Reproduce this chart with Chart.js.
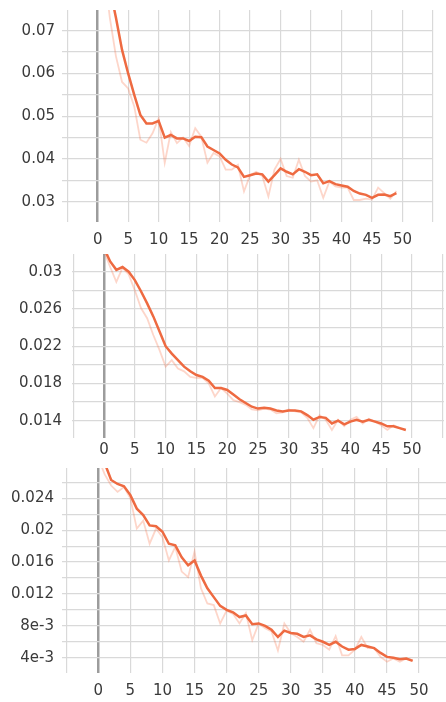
<!DOCTYPE html>
<html>
<head>
<meta charset="utf-8">
<script src="https://cdn.jsdelivr.net/npm/chart.js@4.4.0/dist/chart.umd.min.js"></script>
<style>
  html, body { margin: 0; padding: 0; background: #fff; }
  body { width: 446px; height: 702px; position: relative; overflow: hidden; }
  .panel { position: absolute; left: 0; width: 446px; }
</style>
</head>
<body>
<div class="panel" style="top:0;height:250px"><canvas id="c1"></canvas></div>
<div class="panel" style="top:250px;height:212px"><canvas id="c2"></canvas></div>
<div class="panel" style="top:462px;height:240px"><canvas id="c3"></canvas></div>
<script>
// epochs shared by all three runs
const epochs = [0,1,2,3,4,5,6,7,8,9,10,11,12,13,14,15,16,17,18,19,20,21,22,23,24,
  25,26,27,28,29,30,31,32,33,34,35,36,37,38,39,40,41,42,43,44,45,46,47,48,49];
const xTicks = [-5, 0, 5, 10, 15, 20, 25, 30, 35, 40, 45, 50, 55];
const xLabels = ['', '0', '5', '10', '15', '20', '25', '30', '35', '40', '45', '50', ''];

// top panel
const smooth1 = [0.095, 0.087, 0.080, 0.073, 0.0655, 0.0600, 0.0550, 0.0503, 0.0483, 0.0483,
  0.0489, 0.0450, 0.0456, 0.0448, 0.0448, 0.0442, 0.0452, 0.0451, 0.0429, 0.0421,
  0.0413, 0.0398, 0.0387, 0.0380, 0.0358, 0.0362, 0.0366, 0.0364, 0.0347, 0.0362,
  0.0378, 0.0370, 0.0364, 0.0376, 0.0370, 0.0362, 0.0364, 0.0343, 0.0348, 0.0341,
  0.0338, 0.0335, 0.0325, 0.0319, 0.0316, 0.0309, 0.0316, 0.0317, 0.0313, 0.0320];
const raw1 = [0.100, 0.085, 0.073, 0.064, 0.058, 0.0565, 0.0523, 0.0445, 0.0438, 0.0460,
  0.0495, 0.0391, 0.0463, 0.0437, 0.0450, 0.0430, 0.0472, 0.0452, 0.0391, 0.0414,
  0.0406, 0.0375, 0.0375, 0.0386, 0.0324, 0.0362, 0.0370, 0.0360, 0.0312, 0.0375,
  0.0400, 0.0360, 0.0356, 0.0398, 0.0360, 0.0347, 0.0350, 0.0309, 0.0347, 0.0336,
  0.0333, 0.0333, 0.0304, 0.0304, 0.0307, 0.0305, 0.0333, 0.0320, 0.0307, 0.0325];
const yTicks1 = [0.03, 0.035, 0.04, 0.045, 0.05, 0.055, 0.06, 0.065, 0.07];
const yLabels1 = ['0.03', '', '0.04', '', '0.05', '', '0.06', '', '0.07'];

// middle panel
const smooth2 = [0.0325, 0.0311, 0.0302, 0.0305, 0.0300, 0.0291, 0.0279, 0.0266, 0.0252, 0.0236,
  0.0220, 0.0212, 0.0205, 0.0198, 0.0193, 0.0189, 0.0187, 0.0183, 0.0175, 0.0175,
  0.0173, 0.0168, 0.0163, 0.0159, 0.0155, 0.0153, 0.0154, 0.0153, 0.0151, 0.0150,
  0.0151, 0.0151, 0.0150, 0.0146, 0.0141, 0.0144, 0.0143, 0.0137, 0.0140, 0.0136,
  0.0139, 0.0141, 0.0139, 0.0141, 0.0139, 0.0137, 0.0134, 0.0134, 0.0132, 0.0130];
const raw2 = [0.0322, 0.0305, 0.0289, 0.0304, 0.0297, 0.0280, 0.0261, 0.0250, 0.0232, 0.0216,
  0.0198, 0.0205, 0.0196, 0.0193, 0.0187, 0.0186, 0.0186, 0.0180, 0.0166, 0.0175,
  0.0169, 0.0162, 0.0160, 0.0157, 0.0152, 0.0151, 0.0153, 0.0152, 0.0148, 0.0149,
  0.0152, 0.0150, 0.0149, 0.0143, 0.0132, 0.0146, 0.0141, 0.0130, 0.0141, 0.0134,
  0.0141, 0.0144, 0.0137, 0.0142, 0.0139, 0.0135, 0.0130, 0.0135, 0.0132, 0.0130];
const yTicks2 = [0.014, 0.016, 0.018, 0.020, 0.022, 0.024, 0.026, 0.028, 0.030];
const yLabels2 = ['0.014', '', '0.018', '', '0.022', '', '0.026', '', '0.03'];

// bottom panel
const smooth3 = [0.0295, 0.0284, 0.0263, 0.0258, 0.0255, 0.0244, 0.0227, 0.0219, 0.0206, 0.0205,
  0.0198, 0.0183, 0.0181, 0.0166, 0.0156, 0.0162, 0.0143, 0.0127, 0.0116, 0.0105,
  0.0100, 0.0097, 0.0091, 0.0093, 0.0082, 0.0083, 0.0080, 0.0075, 0.0066, 0.0074,
  0.0071, 0.0070, 0.0066, 0.0068, 0.0063, 0.0060, 0.0056, 0.0060, 0.0054, 0.0050,
  0.0051, 0.0056, 0.0054, 0.0052, 0.0046, 0.0041, 0.0040, 0.0038, 0.0039, 0.0036];
const raw3 = [0.0290, 0.0270, 0.0256, 0.0248, 0.0254, 0.0240, 0.0202, 0.0212, 0.0183, 0.0202,
  0.0191, 0.0162, 0.0179, 0.0148, 0.0141, 0.0173, 0.0127, 0.0108, 0.0106, 0.0083,
  0.0099, 0.0095, 0.0083, 0.0096, 0.0062, 0.0083, 0.0077, 0.0073, 0.0049, 0.0083,
  0.0071, 0.0066, 0.0060, 0.0075, 0.0058, 0.0056, 0.0050, 0.0067, 0.0043, 0.0043,
  0.0050, 0.0066, 0.0052, 0.0052, 0.0041, 0.0035, 0.0039, 0.0035, 0.0039, 0.0037];
const yTicks3 = [0.004, 0.006, 0.008, 0.010, 0.012, 0.014, 0.016, 0.018, 0.020, 0.022, 0.024, 0.026];
const yLabels3 = ['4e-3', '', '8e-3', '', '0.012', '', '0.016', '', '0.02', '', '0.024', ''];

const SMOOTH_COLOR = '#ee6a41';
const RAW_COLOR = 'rgba(247, 120, 80, 0.3)';
const GRID = '#d9d9d9';
const ZERO_LINE = '#9c9c9c';
const FONT = { family: "'DejaVu Sans', Verdana, sans-serif", size: 15 };

function xy(vals) { return vals.map((v, i) => ({ x: epochs[i], y: v })); }

function makePanel(id, p) {
  return new Chart(document.getElementById(id), {
    type: 'line',
    data: {
      datasets: [
        { data: xy(p.smooth), borderColor: SMOOTH_COLOR, borderWidth: 2.5, pointRadius: 0, tension: 0 },
        { data: xy(p.raw), borderColor: RAW_COLOR, borderWidth: 1.8, pointRadius: 0, tension: 0 }
      ]
    },
    options: {
      responsive: true,
      maintainAspectRatio: false,
      animation: false,
      layout: { padding: { top: p.padTop, right: p.padRight, left: 0, bottom: 0 } },
      plugins: { legend: { display: false }, tooltip: { enabled: false } },
      scales: {
        x: {
          type: 'linear', min: p.xMin, max: p.xMax,
          afterBuildTicks: s => { s.ticks = xTicks.map(v => ({ value: v })); },
          afterFit: s => { s.height = p.xAxisH; s.paddingLeft = 0; s.paddingRight = 0; },
          border: { display: false },
          grid: {
            drawTicks: false,
            color: c => (c.tick && c.tick.value === 0 ? ZERO_LINE : GRID),
            lineWidth: c => (c.tick && c.tick.value === 0 ? 2.5 : 1.2)
          },
          ticks: {
            autoSkip: false, maxRotation: 0, padding: p.xPad, color: '#3a3a3a', font: FONT,
            callback: (v, i) => xLabels[i]
          }
        },
        y: {
          min: p.yMin, max: p.yMax,
          afterBuildTicks: s => { s.ticks = p.yTicks.map(v => ({ value: v })); },
          afterFit: s => { s.width = p.yAxisW; s.paddingTop = 0; s.paddingBottom = 0; },
          border: { display: false },
          grid: { drawTicks: false, color: GRID, lineWidth: 1.2 },
          ticks: {
            autoSkip: false, padding: p.yPad, color: '#3a3a3a', font: FONT,
            callback: (v, i) => p.yLabels[i]
          }
        }
      }
    }
  });
}

makePanel('c1', {
  smooth: smooth1, raw: raw1, yTicks: yTicks1, yLabels: yLabels1,
  yMin: 0.02525, yMax: 0.07484, xMin: -5.85, xMax: 55,
  padTop: 10, padRight: 13, xAxisH: 28, yAxisW: 62, xPad: 9, yPad: 7
});
makePanel('c2', {
  smooth: smooth2, raw: raw2, yTicks: yTicks2, yLabels: yLabels2,
  yMin: 0.01214, yMax: 0.0319, xMin: -5.2, xMax: 55.2,
  padTop: 4, padRight: 2, xAxisH: 24, yAxisW: 72, xPad: 3, yPad: 10
});
makePanel('c3', {
  smooth: smooth3, raw: raw3, yTicks: yTicks3, yLabels: yLabels3,
  yMin: 0.00208, yMax: 0.0278, xMin: -5.66, xMax: 54.2,
  padTop: 6, padRight: 0, xAxisH: 29, yAxisW: 62, xPad: 9, yPad: 8
});
</script>
</body>
</html>
